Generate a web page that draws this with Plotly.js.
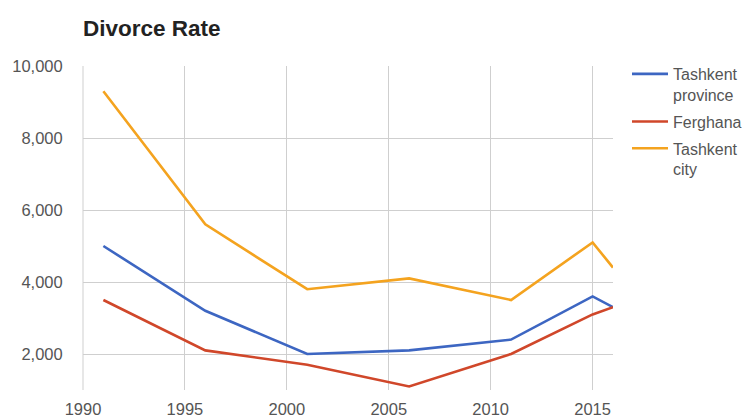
<!DOCTYPE html>
<html>
<head>
<meta charset="utf-8">
<script src="https://cdn.plot.ly/plotly-3.0.1.min.js"></script>
<style>html,body{margin:0;padding:0;background:#fff;}#chart{width:750px;height:417px;}</style>
</head>
<body>
<div id="chart"></div>
<script>
var years = [1991, 1996, 2001, 2006, 2011, 2015, 2016];
var tashkentProvince = [5000, 3200, 2000, 2100, 2400, 3600, 3300];
var ferghana = [3500, 2100, 1700, 1100, 2000, 3100, 3300];
var tashkentCity = [9300, 5600, 3800, 4100, 3500, 5100, 4400];
var seriesNames = ['Tashkent<br>province', 'Ferghana', 'Tashkent<br>city'];
var seriesColors = ['#3d66c2', '#d0472a', '#f4a31f'];
var xTicks = [1990, 1995, 2000, 2005, 2010, 2015];
var yTicks = [2000, 4000, 6000, 8000, 10000];
var yTickLabels = ['2,000', '4,000', '6,000', '8,000', '10,000'];

var FONT = '"Liberation Sans", Arial, sans-serif';
var seriesValues = [tashkentProvince, ferghana, tashkentCity];
var data = seriesValues.map(function (vals, i) {
  return {
    x: years, y: vals, name: seriesNames[i], type: 'scatter', mode: 'lines',
    legendgroup: 'g' + i,
    line: {color: seriesColors[i], width: 2.6}
  };
});

var layout = {
  width: 750, height: 417,
  margin: {l: 83, r: 137, t: 66, b: 27, pad: 0, autoexpand: false},
  paper_bgcolor: '#fff', plot_bgcolor: '#fff',
  font: {family: FONT, color: '#555', size: 16},
  title: {text: '<b>Divorce Rate</b>', x: 83/750, xanchor: 'left', y: 1 - 28/417, yanchor: 'middle',
          font: {size: 22.5, color: '#222', family: FONT}},
  xaxis: {range: [1990, 2016], tickvals: xTicks, ticktext: xTicks.map(String),
          showgrid: true, gridcolor: '#cfcfcf', gridwidth: 1, zeroline: false,
          showline: false, ticks: 'outside', ticklen: 4, tickcolor: 'rgba(0,0,0,0)',
          tickfont: {size: 16.5, color: '#555', family: FONT}, fixedrange: true},
  yaxis: {range: [1000, 10000], tickvals: yTicks, ticktext: yTickLabels,
          showgrid: true, gridcolor: '#cfcfcf', gridwidth: 1, zeroline: false,
          showline: false, ticks: 'outside', ticklen: 16, tickcolor: 'rgba(0,0,0,0)',
          tickfont: {size: 16.5, color: '#555', family: FONT}, fixedrange: true},
  shapes: [{type: 'line', xref: 'paper', yref: 'paper', x0: 0, x1: 0, y0: 0, y1: 1,
            line: {color: '#cfcfcf', width: 1}}],
  legend: {x: 1 + 14/530, xanchor: 'left', y: 1 + 9/324, yanchor: 'top', valign: 'top',
           traceorder: 'grouped',
           font: {size: 16, color: '#555', family: FONT}, tracegroupgap: 3, itemwidth: 36,
           bgcolor: 'rgba(0,0,0,0)'},
  showlegend: true
};

Plotly.newPlot('chart', data, layout, {displayModeBar: false, staticPlot: true});
</script>
</body>
</html>
